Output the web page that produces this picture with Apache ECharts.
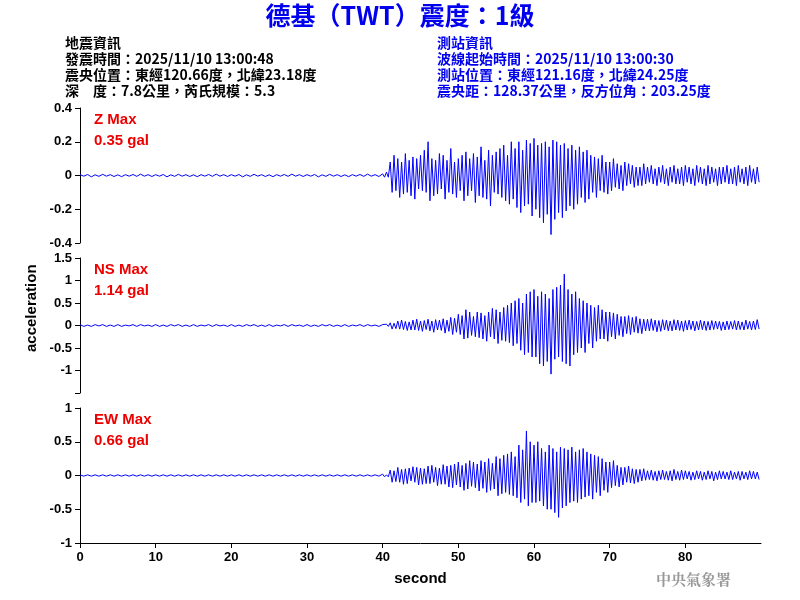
<!DOCTYPE html>
<html><head><meta charset="utf-8">
<script src="https://cdn.jsdelivr.net/npm/echarts@6/dist/echarts.min.js"></script>
<style>html,body{margin:0;padding:0;background:#fff}#c{width:800px;height:600px}</style>
</head><body><div id="c"></div>
<script>
// sample times: pre-event every 0.5 s (0..39.5), event every 0.25 s (40..89.75)
const preStep = 0.5, postStart = 40, postStep = 0.25;
const zPre = [0.005,-0.004,0.006,-0.008,0.004,-0.005,0.007,-0.004,0.005,-0.006,0.004,-0.007,0.005,-0.004,0.006,-0.005,0.008,-0.004,0.005,-0.006,
0.005,-0.004,0.006,-0.008,0.004,-0.005,0.007,-0.004,0.005,-0.006,0.004,-0.007,0.005,-0.004,0.006,-0.005,0.008,-0.004,0.005,-0.006,
0.005,-0.004,0.006,-0.008,0.004,-0.005,0.007,-0.004,0.005,-0.006,0.004,-0.007,0.005,-0.004,0.006,-0.005,0.008,-0.004,0.005,-0.006,
0.005,-0.004,0.006,-0.008,0.004,-0.005,0.007,-0.004,0.005,-0.006,0.004,-0.007,0.005,-0.004,0.006,-0.005,0.008,-0.004,0.005,-0.006];
const zPost = [0.01,-0.01,0.02,-0.01, 0.08,-0.1,0.12,-0.09, 0.1,-0.13,0.08,-0.11, 0.13,-0.1,0.09,-0.12, 0.11,-0.14,0.1,-0.08,
0.12,-0.09,0.15,-0.1, 0.2,-0.15,0.1,-0.12, 0.09,-0.11,0.13,-0.08, 0.12,-0.14,0.09,-0.1, 0.16,-0.11,0.08,-0.13,
0.1,-0.09,0.12,-0.15, 0.14,-0.12,0.1,-0.09, 0.13,-0.16,0.11,-0.12, 0.17,-0.13,0.09,-0.14, 0.15,-0.18,0.12,-0.1,
0.14,-0.11,0.16,-0.13, 0.18,-0.15,0.12,-0.17, 0.2,-0.14,0.16,-0.19, 0.2,-0.22,0.15,-0.18, 0.21,-0.17,0.19,-0.24,
0.22,-0.2,0.18,-0.25, 0.19,-0.28,0.2,-0.23, 0.17,-0.35,0.21,-0.26, 0.2,-0.22,0.18,-0.25, 0.19,-0.21,0.16,-0.18,
0.18,-0.2,0.15,-0.17, 0.17,-0.13,0.14,-0.16, 0.15,-0.14,0.12,-0.1, 0.11,-0.13,0.1,-0.09, 0.12,-0.1,0.08,-0.11,
0.08,-0.09,0.1,-0.07, 0.07,-0.08,0.06,-0.09, 0.08,-0.06,0.07,-0.05, 0.06,-0.07,0.05,-0.06, 0.05,-0.06,0.07,-0.05,
0.05,-0.04,0.06,-0.05, 0.04,-0.06,0.05,-0.04, 0.06,-0.05,0.04,-0.06, 0.05,-0.04,0.06,-0.05, 0.04,-0.05,0.05,-0.06,
0.06,-0.04,0.05,-0.05, 0.04,-0.06,0.06,-0.04, 0.05,-0.05,0.04,-0.06, 0.06,-0.05,0.05,-0.04, 0.04,-0.06,0.05,-0.05,
0.05,-0.04,0.06,-0.05, 0.04,-0.05,0.05,-0.06, 0.06,-0.04,0.04,-0.05, 0.05,-0.06,0.06,-0.04, 0.04,-0.05,0.05,-0.04];
const nsPre = [0.02,-0.02,0.01,-0.02,0.02,-0.01,0.02,-0.02,0.01,-0.02,0.02,-0.02,0.01,-0.01,0.02,-0.02,0.02,-0.01,0.01,-0.02,
0.02,-0.02,0.01,-0.02,0.02,-0.01,0.02,-0.02,0.01,-0.02,0.02,-0.02,0.01,-0.01,0.02,-0.02,0.02,-0.01,0.01,-0.02,
0.02,-0.02,0.01,-0.02,0.02,-0.01,0.02,-0.02,0.01,-0.02,0.02,-0.02,0.01,-0.01,0.02,-0.02,0.02,-0.01,0.01,-0.02,
0.02,-0.02,0.01,-0.02,0.02,-0.01,0.02,-0.02,0.01,-0.02,0.02,-0.02,0.01,-0.01,0.02,-0.02,0.02,-0.01,0.01,-0.02];
const nsPost = [0.02,-0.02,0.03,-0.02, 0.06,-0.08,0.05,-0.07, 0.1,-0.08,0.12,-0.09, 0.09,-0.11,0.08,-0.1, 0.12,-0.1,0.14,-0.11,
0.1,-0.13,0.11,-0.09, 0.14,-0.12,0.1,-0.15, 0.13,-0.1,0.12,-0.11, 0.15,-0.17,0.12,-0.13, 0.18,-0.2,0.16,-0.15,
0.25,-0.2,0.22,-0.3, 0.35,-0.28,0.3,-0.22, 0.2,-0.25,0.3,-0.27, 0.28,-0.3,0.22,-0.35, 0.3,-0.25,0.38,-0.3,
0.35,-0.4,0.3,-0.33, 0.4,-0.35,0.45,-0.38, 0.5,-0.45,0.55,-0.4, 0.6,-0.55,0.5,-0.65, 0.7,-0.6,0.75,-0.7,
0.8,-0.7,0.65,-0.85, 0.75,-0.9,0.7,-0.8, 0.6,-1.08,0.8,-0.75, 0.85,-0.7,0.9,-0.8, 1.14,-0.85,0.8,-0.9,
0.7,-0.65,0.75,-0.6, 0.6,-0.5,0.55,-0.6, 0.5,-0.4,0.45,-0.5, 0.4,-0.35,0.45,-0.3, 0.35,-0.3,0.3,-0.35,
0.3,-0.25,0.28,-0.3, 0.25,-0.22,0.2,-0.25, 0.2,-0.18,0.22,-0.2, 0.18,-0.15,0.2,-0.17, 0.15,-0.18,0.14,-0.12,
0.14,-0.12,0.15,-0.11, 0.12,-0.14,0.11,-0.13, 0.13,-0.1,0.12,-0.12, 0.1,-0.12,0.13,-0.1, 0.12,-0.11,0.1,-0.13,
0.11,-0.1,0.12,-0.09, 0.1,-0.12,0.09,-0.1, 0.12,-0.09,0.1,-0.11, 0.09,-0.1,0.11,-0.09, 0.1,-0.08,0.09,-0.11,
0.08,-0.1,0.1,-0.09, 0.09,-0.08,0.11,-0.1, 0.1,-0.09,0.08,-0.1, 0.12,-0.08,0.09,-0.1, 0.1,-0.09,0.13,-0.08];
const ewPre = [0.01,-0.01,0.01,-0.01,0.01,-0.01,0.01,-0.01,0.01,-0.01,0.01,-0.01,0.01,-0.01,0.01,-0.01,0.01,-0.01,0.01,-0.01,
0.01,-0.01,0.01,-0.01,0.01,-0.01,0.01,-0.01,0.01,-0.01,0.01,-0.01,0.01,-0.01,0.01,-0.01,0.01,-0.01,0.01,-0.01,
0.01,-0.01,0.01,-0.01,0.01,-0.01,0.01,-0.01,0.01,-0.01,0.01,-0.01,0.01,-0.01,0.01,-0.01,0.01,-0.01,0.01,-0.01,
0.01,-0.01,0.01,-0.01,0.01,-0.01,0.01,-0.01,0.01,-0.01,0.01,-0.01,0.01,-0.01,0.01,-0.01,0.01,-0.01,0.01,-0.01];
const ewPost = [0.02,-0.02,0.01,-0.02, 0.08,-0.1,0.07,-0.09, 0.12,-0.1,0.09,-0.13, 0.1,-0.12,0.11,-0.08, 0.13,-0.1,0.12,-0.14,
0.11,-0.13,0.1,-0.12, 0.14,-0.12,0.15,-0.1, 0.12,-0.15,0.11,-0.13, 0.16,-0.13,0.14,-0.17, 0.15,-0.18,0.17,-0.14,
0.2,-0.17,0.15,-0.22, 0.18,-0.2,0.22,-0.16, 0.2,-0.18,0.17,-0.23, 0.22,-0.19,0.2,-0.25, 0.25,-0.22,0.18,-0.2,
0.28,-0.3,0.25,-0.27, 0.3,-0.25,0.32,-0.28, 0.35,-0.3,0.28,-0.33, 0.45,-0.4,0.38,-0.35, 0.66,-0.45,0.5,-0.4,
0.45,-0.4,0.5,-0.38, 0.4,-0.45,0.35,-0.5, 0.45,-0.5,0.4,-0.55, 0.35,-0.62,0.42,-0.48, 0.4,-0.45,0.38,-0.4,
0.42,-0.38,0.35,-0.4, 0.38,-0.35,0.4,-0.32, 0.35,-0.3,0.32,-0.35, 0.3,-0.25,0.28,-0.3, 0.25,-0.22,0.2,-0.25,
0.2,-0.18,0.22,-0.15, 0.15,-0.17,0.12,-0.14, 0.12,-0.1,0.14,-0.11, 0.1,-0.12,0.09,-0.1, 0.09,-0.08,0.1,-0.07,
0.07,-0.06,0.08,-0.07, 0.06,-0.08,0.07,-0.06, 0.08,-0.06,0.06,-0.07, 0.07,-0.08,0.09,-0.06, 0.06,-0.07,0.08,-0.06,
0.07,-0.05,0.06,-0.07, 0.05,-0.06,0.07,-0.05, 0.06,-0.07,0.05,-0.06, 0.07,-0.05,0.06,-0.08, 0.05,-0.06,0.07,-0.05,
0.06,-0.05,0.05,-0.06, 0.07,-0.06,0.05,-0.05, 0.06,-0.07,0.06,-0.05, 0.05,-0.06,0.07,-0.05, 0.06,-0.05,0.05,-0.06];
const zTicks = [-0.4,0.4,0.2], nsTicks = [-1.5,1.5,0.5], ewTicks = [-1,1,0.5];
const xTicks = [0,90,10];

function pairs(pre, post){
  const out = [];
  pre.forEach((v,i)=>out.push([i*preStep, v]));
  post.forEach((v,i)=>out.push([postStart+i*postStep, v]));
  return out;
}
const chart = echarts.init(document.getElementById('c'));
const tops = [108,258,408], h = 135;
const ticks = [zTicks, nsTicks, ewTicks];
const font = 'Arial, "Liberation Sans", sans-serif';
const cjk = '"Noto Sans CJK TC", sans-serif';
chart.setOption({
  animation:false,
  grid: tops.map(t=>({left:80,right:39,top:t,height:h})),
  xAxis: [0,1,2].map(i=>({
    type:'value', gridIndex:i, min:xTicks[0], max:xTicks[1], interval:xTicks[2],
    show: i===2, splitLine:{show:false},
    axisLine:{onZero:false,lineStyle:{color:'#000'}}, axisTick:{lineStyle:{color:'#000'},customValues:[0,10,20,30,40,50,60,70,80]},
    axisLabel:{color:'#000',fontSize:13,fontFamily:font,fontWeight:'bold',formatter:v=>v===90?'':v},
    name:'second', nameLocation:'middle', nameGap:28, nameTextStyle:{color:'#000',fontSize:15,fontFamily:font,fontWeight:'bold'}
  })),
  yAxis: [0,1,2].map(i=>({
    type:'value', gridIndex:i, min:ticks[i][0], max:ticks[i][1], interval:ticks[i][2],
    splitLine:{show:false},
    axisLine:{show:true,lineStyle:{color:'#000'}}, axisTick:{show:true,lineStyle:{color:'#000'}},
    axisLabel:{color:'#000',fontSize:13,fontFamily:font,fontWeight:'bold',showMaxLabel:true,showMinLabel:true,
      formatter:v=>(i===1&&v===-1.5)?'':String(v)}
  })),
  series: [[zPre,zPost],[nsPre,nsPost],[ewPre,ewPost]].map((d,i)=>({
    type:'line', xAxisIndex:i, yAxisIndex:i, data:pairs(d[0],d[1]),
    showSymbol:false, sampling:null, lineStyle:{color:'#0000ff',width:1}, itemStyle:{color:'#0000ff'}
  })),
  graphic: [
    {type:'text',left:'center',top:3,style:{text:'德基（TWT）震度：1級',font:'bold 25px '+cjk,fill:'#0000ee'}},
    {type:'text',left:65,top:35,style:{text:'地震資訊\n發震時間：2025/11/10 13:00:48\n震央位置：東經120.66度，北緯23.18度\n深　度：7.8公里，芮氏規模：5.3',font:'bold 14px '+cjk,lineHeight:16,fill:'#000'}},
    {type:'text',left:437,top:35,style:{text:'測站資訊\n波線起始時間：2025/11/10 13:00:30\n測站位置：東經121.16度，北緯24.25度\n震央距：128.37公里，反方位角：203.25度',font:'bold 14px '+cjk,lineHeight:16,fill:'#0000ee'}},
    {type:'text',left:94,top:109,style:{text:'Z Max\n0.35 gal',font:'bold 15px '+font,lineHeight:21,fill:'#ee0000'}},
    {type:'text',left:94,top:259,style:{text:'NS Max\n1.14 gal',font:'bold 15px '+font,lineHeight:21,fill:'#ee0000'}},
    {type:'text',left:94,top:409,style:{text:'EW Max\n0.66 gal',font:'bold 15px '+font,lineHeight:21,fill:'#ee0000'}},
    {type:'text',x:24,y:352,rotation:Math.PI/2,style:{text:'acceleration',font:'bold 15px '+font,fill:'#000'}},
    {type:'text',left:656,top:572,style:{text:'中央氣象署',font:'bold 15px "Noto Serif CJK TC", '+cjk,fill:'#999'}}
  ]
});
</script></body></html>
